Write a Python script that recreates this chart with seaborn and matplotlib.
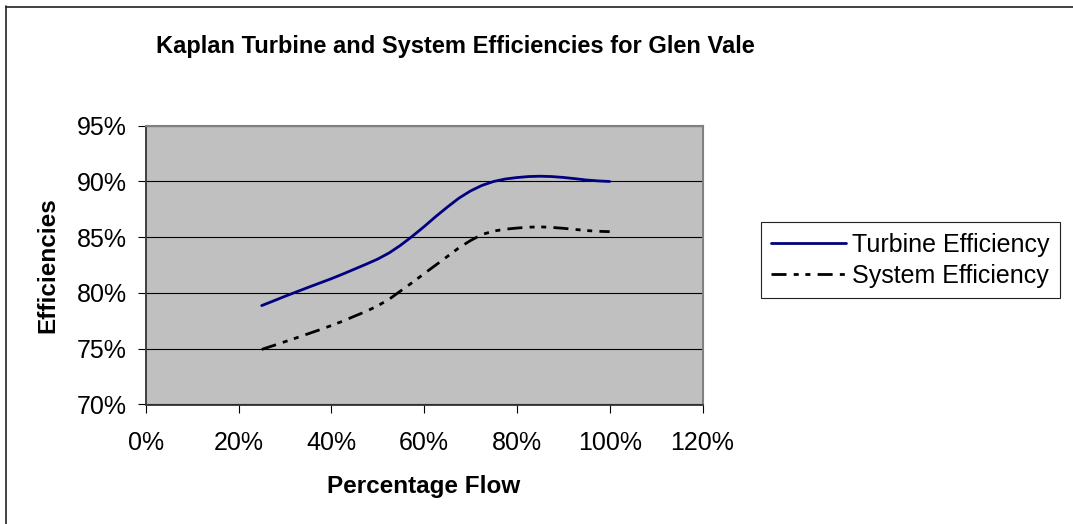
import matplotlib
matplotlib.use("Agg")
import matplotlib.pyplot as plt
from matplotlib.lines import Line2D
from matplotlib.ticker import MultipleLocator, PercentFormatter
import seaborn as sns
import pandas as pd

# ---- data ----
flow = [0.250, 0.275, 0.300, 0.325, 0.350, 0.375, 0.400, 0.425, 0.450, 0.475,
        0.500, 0.525, 0.550, 0.575, 0.600, 0.625, 0.650, 0.675, 0.700, 0.725,
        0.750, 0.775, 0.800, 0.825, 0.850, 0.875, 0.900, 0.925, 0.950, 0.975,
        1.000]
turbine_eff = [0.7887, 0.7928, 0.7970, 0.8010, 0.8050, 0.8089, 0.8128, 0.8170,
               0.8214, 0.8258, 0.8304, 0.8360, 0.8430, 0.8510, 0.8595, 0.8685,
               0.8770, 0.8850, 0.8915, 0.8965, 0.9000, 0.9022, 0.9035, 0.9044,
               0.9047, 0.9044, 0.9036, 0.9025, 0.9013, 0.9005, 0.9000]
system_eff = [0.7494, 0.7528, 0.7563, 0.7598, 0.7634, 0.7670, 0.7708, 0.7748,
              0.7792, 0.7835, 0.7885, 0.7945, 0.8020, 0.8095, 0.8173, 0.8250,
              0.8327, 0.8405, 0.8470, 0.8525, 0.8555, 0.8572, 0.8582, 0.8590,
              0.8593, 0.8588, 0.8580, 0.8570, 0.8560, 0.8553, 0.8550]
series_names = ["Turbine Efficiency", "System Efficiency"]
title = "Kaplan Turbine and System Efficiencies for Glen Vale"
x_label = "Percentage Flow"
y_label = "Efficiencies"

df = pd.DataFrame({
    "flow": flow * 2,
    "eff": turbine_eff + system_eff,
    "series": [series_names[0]] * len(flow) + [series_names[1]] * len(flow),
})

sns.set_style("white")
plt.rcParams["font.family"] = ["Liberation Sans", "DejaVu Sans"]
plt.rcParams["text.color"] = "black"
plt.rcParams["axes.labelcolor"] = "black"

W, H = 1073, 524
fig = plt.figure(figsize=(W / 100, H / 100), dpi=100)
fig.patch.set_facecolor("white")

# plot-area in pixels
L, R, T, B = 145.7, 702.5, 125.7, 404.5
ax = fig.add_axes([L / W, 1 - B / H, (R - L) / W, (B - T) / H])
ax.set_facecolor("#C0C0C0")

sns.lineplot(data=df, x="flow", y="eff", hue="series", style="series",
             palette={series_names[0]: "#000080", series_names[1]: "#000000"},
             dashes={series_names[0]: "", series_names[1]: (5.4, 2.6, 1.8, 2.4, 1.8, 2.6)},
             linewidth=2.0, legend=False, ax=ax, zorder=3)

ax.set_xlim(0, 1.2)
ax.set_ylim(0.70, 0.95)
ax.xaxis.set_major_locator(MultipleLocator(0.2))
ax.yaxis.set_major_locator(MultipleLocator(0.05))
ax.xaxis.set_major_formatter(PercentFormatter(1.0, decimals=0))
ax.yaxis.set_major_formatter(PercentFormatter(1.0, decimals=0))

ax.grid(False)
ax.yaxis.grid(True, color="black", linewidth=0.8)
ax.set_axisbelow(True)

for s in ["left", "bottom"]:
    ax.spines[s].set_color("#333333")
    ax.spines[s].set_linewidth(1.3)
for s in ["top", "right"]:
    ax.spines[s].set_color("#808080")
    ax.spines[s].set_linewidth(1.5)

ax.tick_params(axis="both", direction="out", length=5.8, width=0.8,
               color="black", labelsize=18, labelcolor="black")
ax.tick_params(axis="y", pad=8, left=True)
ax.tick_params(axis="x", pad=13, bottom=True)

ax.set_xlabel(x_label, fontsize=17.5, fontweight="bold", va="baseline")
ax.xaxis.set_label_coords(0.5, (B - 493.3) / (B - T))
ax.set_ylabel(y_label, fontsize=17.5, fontweight="bold", va="center")
ax.yaxis.set_label_coords((47.5 - L) / (R - L), 0.5)

fig.text(455 / W, 1 - 53.3 / H, title, ha="center", va="baseline",
         fontsize=17, fontweight="bold", color="black")

lines = ax.get_lines()[:2]
leg = fig.legend(lines, series_names, loc="upper left",
                 bbox_to_anchor=(760.7 / W, 1 - 222.3 / H),
                 bbox_transform=fig.transFigure, borderaxespad=0,
                 fontsize=18, frameon=True, fancybox=False, shadow=False,
                 handlelength=3.0, handletextpad=0.25, borderpad=0.42,
                 labelspacing=0.27)
leg.get_frame().set_edgecolor("#222222")
leg.get_frame().set_linewidth(0.8)
leg.get_frame().set_facecolor("white")
leg.get_frame().set_alpha(1)

# outer chart frame (left and top edges visible)
fig.add_artist(Line2D([6 / W, 6 / W], [0, 1 - 6 / H], transform=fig.transFigure,
                      color="#222222", linewidth=1.2))
fig.add_artist(Line2D([6 / W, 1], [1 - 6.5 / H, 1 - 6.5 / H], transform=fig.transFigure,
                      color="#222222", linewidth=1.2))

fig.savefig("out.png", dpi=100)
